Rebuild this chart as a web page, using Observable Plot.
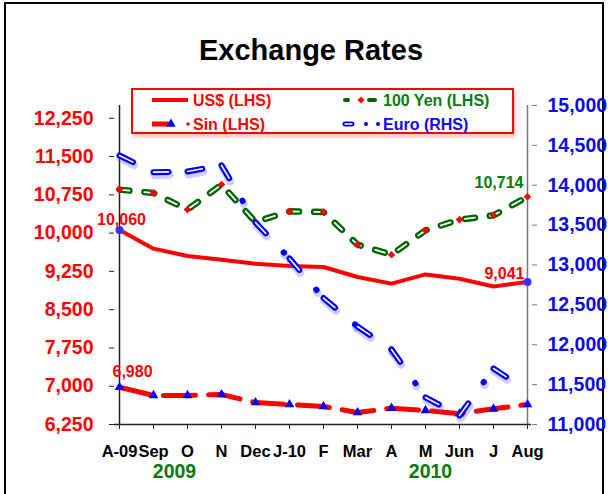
<!DOCTYPE html>
<html><head><meta charset="utf-8">
<script src="https://cdn.jsdelivr.net/npm/d3@7"></script>
<script src="https://cdn.jsdelivr.net/npm/@observablehq/plot@0.6"></script>
<style>
html,body{margin:0;padding:0;background:#fff;}
#wrap{position:relative;width:608px;height:494px;overflow:hidden;font-family:"Liberation Sans",Arial,sans-serif;background:#fff;}
#frame{position:absolute;left:4px;top:2px;width:600px;height:540px;border:2px solid #000;box-sizing:border-box;}
#title{position:absolute;left:0;width:622px;top:36px;line-height:28px;text-align:center;font-size:29px;font-weight:bold;color:#000;}
#chart{position:absolute;left:0;top:0;}
#legend{position:absolute;left:128px;top:85px;}
</style>
</head><body>
<div id="wrap">
  <div id="frame"></div>
  <div id="title">Exchange Rates</div>
  <div id="chart"></div>
  <svg id="legend" width="400" height="60"></svg>
</div>
<script>
const months = ["A-09","Sep","O","N","Dec","J-10","F","Mar","A","M","Jun","J","Aug"];
const usd  = [10060, 9695, 9550, 9480, 9400, 9355, 9335, 9140, 9010, 9190, 9105, 8955, 9041];
const yen  = [10852, 10785, 10460, 10950, 10217, 10426, 10413, 9773, 9577, 10054, 10264, 10348, 10714];
const sin  = [6980, 6819, 6819, 6838, 6681, 6642, 6603, 6485, 6570, 6525, 6460, 6557, 6642];
const euro = [14373, 14164, 14172, 14250, 13533, 13081, 12586, 12229, 11940, 11339, 11113, 11702, 11426];
const leftTicks  = [6250, 7000, 7750, 8500, 9250, 10000, 10750, 11500, 12250];
const rightTicks = [11000, 11500, 12000, 12500, 13000, 13500, 14000, 14500, 15000];
const years = ["2009", "2010"];
const yearAt = ["O", "M"];

const leftDomain = [6250, 12500];
const rightDomain = [11000, 15000];
const k = (leftDomain[1]-leftDomain[0])/(rightDomain[1]-rightDomain[0]);
const toLeft = v => leftDomain[0] + (v - rightDomain[0]) * k;
const toRight = v => rightDomain[0] + (v - leftDomain[0]) / k;
const fmt = d3.format(",");

const RED = "#ff0000", GREEN = "#006400", GREENTXT = "#0b7a0b", BLUE = "#0000f0", BLUETXT = "#0a0af0";
const FONT = "Liberation Sans, Arial, sans-serif";

const rows = months.map((m, i) => ({m, usd: usd[i], yen: yen[i], sin: sin[i], euro: toLeft(euro[i])}));
const segs = d3.pairs(rows).map(([a, b]) => ({m1: a.m, m2: b.m, e1: a.euro, e2: b.euro}));
const yearRows = years.map((t, i) => ({t, at: yearAt[i]}));

const euroDash = "15,26,0.5,26";
const chart = Plot.plot({
  width: 608, height: 494,
  marginLeft: 114, marginRight: 77, marginTop: 105, marginBottom: 70,
  style: {fontFamily: FONT, background: "none", overflow: "visible"},
  x: {type: "point", domain: months, padding: 0, axis: null, label: null},
  y: {domain: leftDomain, axis: null, label: null},
  marks: [
    // axes
    Plot.ruleX([months[0]], {stroke: "#222", strokeWidth: 1.5}),
    Plot.ruleX([months[months.length-1]], {stroke: "#777", strokeWidth: 1.5}),
    Plot.ruleY([leftDomain[0]], {stroke: "#222", strokeWidth: 1.5}),
    Plot.axisY(leftTicks, {anchor: "left", tickSize: 5, tickPadding: 16, fontSize: 19.5, fontWeight: "bold", color: RED, stroke: "#222", tickFormat: fmt}),
    Plot.axisY(rightTicks.map(toLeft), {anchor: "right", tickSize: 5, tickPadding: 11, fontSize: 19.5, fontWeight: "bold", color: BLUETXT, stroke: "#777", tickFormat: d => fmt(Math.round(toRight(d)/500)*500)}),
    Plot.axisX({anchor: "bottom", tickSize: 5, tickPadding: 16, fontSize: 16.5, fontWeight: "bold", color: "#000", stroke: "#222"}),
    Plot.text(yearRows.slice(0,1), {x: "at", text: "t", frameAnchor: "bottom", dy: 53, dx: -13, fontSize: 19.5, fontWeight: "bold", fill: GREENTXT}),
    Plot.text(yearRows.slice(1,2), {x: "at", text: "t", frameAnchor: "bottom", dy: 53, dx: 5, fontSize: 19.5, fontWeight: "bold", fill: GREENTXT}),
    // Sin
    Plot.line(rows, {x: "m", y: "sin", stroke: RED, strokeWidth: 5, strokeDasharray: "32,13"}),
    Plot.dot(rows, {x: "m", y: "sin", symbol: "triangle", r: 3.6, fill: BLUE}),
    // US$
    Plot.line(rows, {x: "m", y: "usd", stroke: RED, strokeWidth: 4}),
    // Yen
    Plot.line(rows, {x: "m", y: "yen", stroke: GREEN, strokeWidth: 6.5, strokeDasharray: "10,15", strokeLinecap: "round"}),
    Plot.line(rows, {x: "m", y: "yen", stroke: "#fff", strokeWidth: 1.8, strokeDasharray: "10,15", strokeLinecap: "round"}),
    Plot.dot(rows, {x: "m", y: "yen", symbol: "square", rotate: 45, r: 3, fill: RED}),
    // Euro
    Plot.link(segs, {x1: "m1", x2: "m2", y1: "e1", y2: "e2", stroke: "#6060ff", strokeOpacity: 0.3, strokeWidth: 8, strokeDasharray: euroDash, strokeLinecap: "round", dx: 1, dy: 3}),
    Plot.link(segs, {x1: "m1", x2: "m2", y1: "e1", y2: "e2", stroke: BLUE, strokeWidth: 6, strokeDasharray: euroDash, strokeLinecap: "round"}),
    Plot.link(segs, {x1: "m1", x2: "m2", y1: "e1", y2: "e2", stroke: "#fff", strokeWidth: 1.6, strokeDasharray: "15,52.5", strokeLinecap: "round"}),
    // endpoint circles on US$
    Plot.dot([rows[0], rows[rows.length-1]], {x: "m", y: "usd", r: 4, fill: "#3333ff"}),
    // data labels
    Plot.text([rows[0]], {x: "m", y: "usd", text: d => fmt(d.usd), dy: -10, dx: 2, fontSize: 16, fontWeight: "bold", fill: RED}),
    Plot.text([rows[rows.length-1]], {x: "m", y: "usd", text: d => fmt(d.usd), dy: -8, dx: -3, textAnchor: "end", fontSize: 16, fontWeight: "bold", fill: RED}),
    Plot.text([rows[rows.length-1]], {x: "m", y: "yen", text: d => fmt(d.yen), dy: -14, dx: -4, textAnchor: "end", fontSize: 16, fontWeight: "bold", fill: GREENTXT}),
    Plot.text([rows[0]], {x: "m", y: "sin", text: d => fmt(d.sin), dy: -15, dx: 13, fontSize: 16, fontWeight: "bold", fill: RED})
  ]
});
document.getElementById("chart").appendChild(chart);

// legend
const lg = d3.select("#legend");
const defs = lg.append("defs");
const f = defs.append("filter").attr("id", "sh").attr("x", "-10%").attr("y", "-20%").attr("width", "130%").attr("height", "160%");
f.append("feDropShadow").attr("dx", 2).attr("dy", 3).attr("stdDeviation", 2).attr("flood-color", "#ff0000").attr("flood-opacity", 0.25);
lg.append("rect").attr("x", 4).attr("y", 4).attr("width", 381).attr("height", 44).attr("fill", "#fff").attr("stroke", RED).attr("stroke-width", 2).attr("filter", "url(#sh)");
const ox = -128, oy = -85; // page -> legend coords
const items = [
  {label: "US$ (LHS)", color: RED, px: 193, py: 100},
  {label: "100 Yen (LHS)", color: GREENTXT, px: 383, py: 100},
  {label: "Sin (LHS)", color: RED, px: 193, py: 124},
  {label: "Euro (RHS)", color: BLUETXT, px: 383, py: 124}
];
items.forEach(it => {
  lg.append("text").attr("x", it.px + ox).attr("y", it.py + oy + 5.7).attr("fill", it.color)
    .attr("font-family", FONT).attr("font-size", 16).attr("font-weight", "bold").text(it.label);
});
const Y1 = 100 + oy, Y2 = 124 + oy;
// US$ sample
lg.append("line").attr("x1", 152 + ox).attr("x2", 188 + ox).attr("y1", Y1).attr("y2", Y1).attr("stroke", RED).attr("stroke-width", 4);
// Yen sample
[[343, 350], [367, 377]].forEach(([a, b]) => {
  lg.append("line").attr("x1", a + ox + 2).attr("x2", b + ox - 2).attr("y1", Y1).attr("y2", Y1).attr("stroke", GREEN).attr("stroke-width", 4).attr("stroke-linecap", "round");
});
lg.append("rect").attr("x", 361 + ox - 2.5).attr("y", Y1 - 2.5).attr("width", 5).attr("height", 5).attr("fill", RED).attr("transform", `rotate(45 ${361 + ox} ${Y1})`);
// Sin sample
lg.append("line").attr("x1", 152 + ox).attr("x2", 170 + ox).attr("y1", Y2).attr("y2", Y2).attr("stroke", RED).attr("stroke-width", 5);
lg.append("path").attr("d", d3.symbol(d3.symbolTriangle, 38)()).attr("transform", `translate(${171 + ox},${Y2})`).attr("fill", BLUE);
lg.append("circle").attr("cx", 188 + ox).attr("cy", Y2).attr("r", 1.8).attr("fill", RED);
// Euro sample
lg.append("line").attr("x1", 345 + ox).attr("x2", 352 + ox).attr("y1", Y2).attr("y2", Y2).attr("stroke", BLUE).attr("stroke-width", 5).attr("stroke-linecap", "round");
lg.append("line").attr("x1", 345 + ox).attr("x2", 352 + ox).attr("y1", Y2).attr("y2", Y2).attr("stroke", "#fff").attr("stroke-width", 1.3).attr("stroke-linecap", "round");
[366, 378].forEach(cx => lg.append("circle").attr("cx", cx + ox).attr("cy", Y2).attr("r", 2).attr("fill", BLUE));
</script>
</body></html>
